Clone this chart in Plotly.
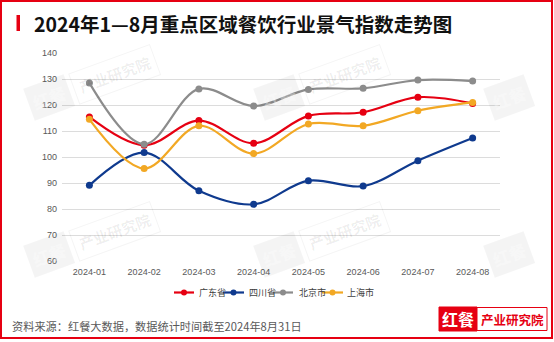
import plotly.graph_objects as go

# Monthly restaurant-industry sentiment index by region, Jan–Aug 2024
months = ["2024-01", "2024-02", "2024-03", "2024-04",
          "2024-05", "2024-06", "2024-07", "2024-08"]
guangdong = [115.4, 104.5, 114.0, 105.3, 115.8, 117.2, 123.0, 120.6]
sichuan = [89.1, 101.7, 87.0, 81.8, 90.9, 88.8, 98.6, 107.3]
beijing = [128.5, 104.9, 126.2, 119.6, 126.0, 126.4, 129.6, 129.2]
shanghai = [114.5, 95.6, 112.0, 101.3, 112.7, 112.0, 117.8, 121.0]

series_names = ["广东省", "四川省", "北京市", "上海市"]
series_values = [guangdong, sichuan, beijing, shanghai]
series_colors = ["#E60012", "#0F3A8E", "#8C8C8C", "#F2A824"]

title_text = "2024年1—8月重点区域餐饮行业景气指数走势图"
source_text = "资料来源：红餐大数据，数据统计时间截至2024年8月31日"

W, H = 554, 342
ML, MR, MT, MB = 62, 54, 53, 81
PW, PH = W - ML - MR, H - MT - MB


def px(x):
    return (x - ML) / PW


def py(y):
    return (H - MB - y) / PH


RED = "#E60012"
CJK = "Noto Sans CJK SC"
LATIN = "Liberation Sans, Noto Sans CJK SC"

fig = go.Figure()
for name, vals, col in zip(series_names, series_values, series_colors):
    fig.add_trace(go.Scatter(
        x=months, y=vals, name=name, mode="lines+markers",
        line=dict(color=col, width=2.2, shape="spline", smoothing=1.0),
        marker=dict(color=col, size=7),
        showlegend=False,
    ))

shapes = []
annotations = []

# outer frame
shapes.append(dict(type="rect", xref="paper", yref="paper",
                   x0=px(1), x1=px(552), y0=py(1), y1=py(338),
                   line=dict(color=RED, width=2), fillcolor="rgba(0,0,0,0)"))

# title marker bar + title
shapes.append(dict(type="rect", xref="paper", yref="paper",
                   x0=px(16.5), x1=px(20), y0=py(15), y1=py(31),
                   line=dict(width=0), fillcolor=RED))
annotations.append(dict(text=title_text, xref="paper", yref="paper",
                        x=px(32), y=py(23.5), xanchor="left", yanchor="middle",
                        showarrow=False,
                        font=dict(family=CJK, size=19.5, color="#111111", weight="bold")))

# faint tiled watermark (the right-hand column sits at the page edge,
# so only its badge part is drawn)
wm_cols = [49, 279, 509]
wm_rows = [97, 254]
for ci, cx in enumerate(wm_cols):
    for cy in wm_rows:
        annotations.append(dict(text="红餐", xref="paper", yref="paper",
                                x=px(cx), y=py(cy), xanchor="center", yanchor="middle",
                                showarrow=False, textangle=-20,
                                bgcolor="rgba(0,0,0,0.045)", borderpad=4,
                                font=dict(family=CJK, size=17, color="rgba(255,255,255,0.35)",
                                          weight="bold")))
        if ci < len(wm_cols) - 1:
            annotations.append(dict(text="产业研究院", xref="paper", yref="paper",
                                    x=px(cx + 65), y=py(cy - 23), xanchor="center",
                                    yanchor="middle", showarrow=False, textangle=-20,
                                    bordercolor="rgba(0,0,0,0.045)", borderwidth=1,
                                    borderpad=5,
                                    font=dict(family=CJK, size=15, color="rgba(0,0,0,0.07)",
                                              weight="bold")))

# legend drawn as line + dot + label
legend_items = [(174, 194, 197), (223, 244, 247), (273, 293, 297), (322, 343, 345)]
ly = 292.5
for (x0, x1, tx), name, col in zip(legend_items, series_names, series_colors):
    shapes.append(dict(type="line", xref="paper", yref="paper",
                       x0=px(x0), x1=px(x1), y0=py(ly), y1=py(ly),
                       line=dict(color=col, width=2.2)))
    cxm = (x0 + x1) / 2
    shapes.append(dict(type="circle", xref="paper", yref="paper",
                       x0=px(cxm - 3), x1=px(cxm + 3), y0=py(ly - 3), y1=py(ly + 3),
                       line=dict(width=0), fillcolor=col))
    annotations.append(dict(text=name, xref="paper", yref="paper",
                            x=px(tx), y=py(ly), xanchor="left", yanchor="middle",
                            showarrow=False,
                            font=dict(family=CJK, size=9, color="#404040")))

# source note
annotations.append(dict(text=source_text, xref="paper", yref="paper",
                        x=px(9.5), y=py(326), xanchor="left", yanchor="middle",
                        showarrow=False,
                        font=dict(family=CJK, size=11.2, color="#595959")))

# brand badge, bottom right
shapes.append(dict(type="rect", xref="paper", yref="paper",
                   x0=px(439), x1=px(477), y0=py(307), y1=py(331),
                   line=dict(color=RED, width=1), fillcolor=RED))
shapes.append(dict(type="rect", xref="paper", yref="paper",
                   x0=px(477), x1=px(547), y0=py(307.5), y1=py(330.5),
                   line=dict(color=RED, width=1), fillcolor="white"))
annotations.append(dict(text="红餐", xref="paper", yref="paper",
                        x=px(458), y=py(319), xanchor="center", yanchor="middle",
                        showarrow=False,
                        font=dict(family=CJK, size=16, color="white", weight="bold")))
annotations.append(dict(text="产业研究院", xref="paper", yref="paper",
                        x=px(512), y=py(319), xanchor="center", yanchor="middle",
                        showarrow=False,
                        font=dict(family=CJK, size=12.5, color=RED, weight="bold")))

fig.update_layout(
    width=W, height=H,
    margin=dict(l=ML, r=MR, t=MT, b=MB, autoexpand=False),
    paper_bgcolor="white", plot_bgcolor="white",
    showlegend=False,
    shapes=shapes, annotations=annotations,
    xaxis=dict(
        type="category", range=[-0.5, 7.5], showgrid=False, zeroline=False,
        showline=False, ticks="", automargin=False,
        tickfont=dict(family=LATIN, size=9, color="#595959"),
        ticklabelstandoff=4,
    ),
    yaxis=dict(
        range=[60, 140], dtick=10, tick0=60, showgrid=True, gridcolor="#DCDCDC",
        gridwidth=1, zeroline=False, showline=False, ticks="", automargin=False,
        tickfont=dict(family=LATIN, size=9, color="#595959"),
        ticklabelstandoff=4,
    ),
)

fig.write_html("out.html")
